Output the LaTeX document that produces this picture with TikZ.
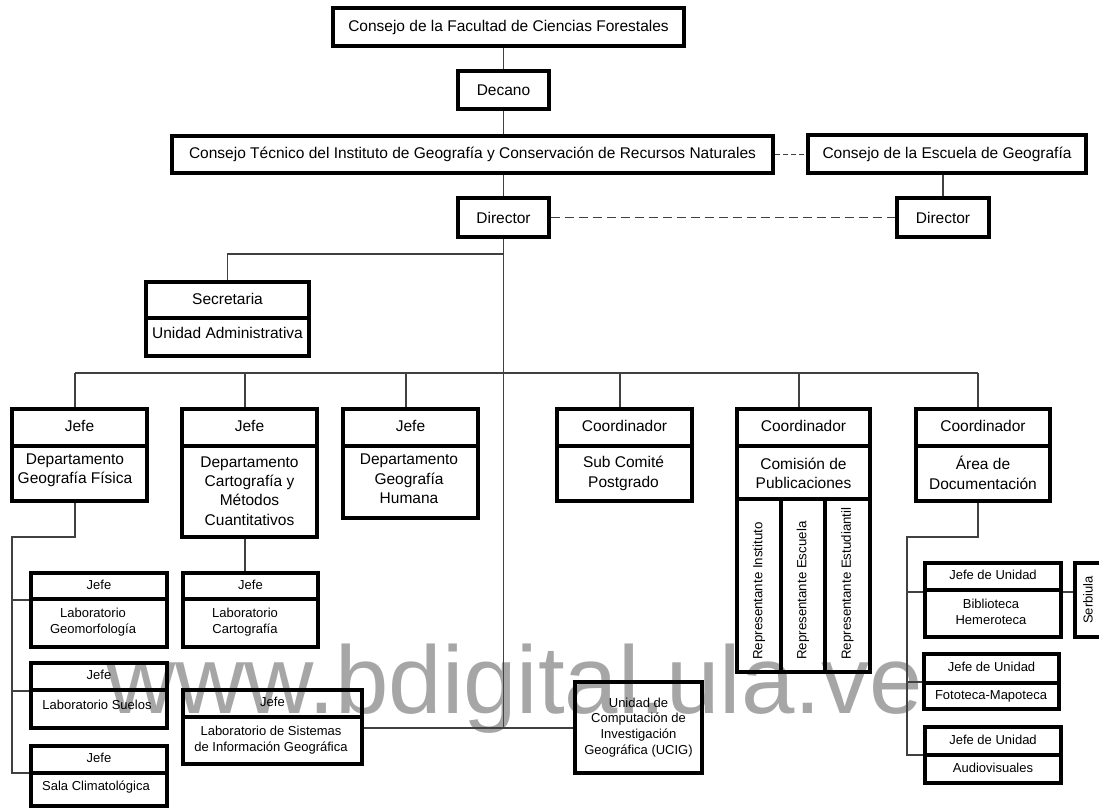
\documentclass[tikz,border=0pt]{standalone}
\usepackage{fontspec}
\setmainfont{Liberation Sans}
\usetikzlibrary{fit}
\newcommand\bigf{\fontsize{15.5}{19.3}\selectfont}
\newcommand\smf{\fontsize{13}{15.8}\selectfont}
\newcommand\repf{\fontsize{13.3}{16}\selectfont}
\definecolor{wm}{RGB}{166,166,166}
\definecolor{lnc}{RGB}{64,64,64}
% name, x1, y1, x2, y2, text
\newcommand\onebox[6]{%
  \node[bx, fit={(#2,#3) (#4,#5)}] (#1) {};
  \node[tx] at (#1.center) {#6};
}
% name, x1, y1, x2, y2, ydiv, top text, bottom text position, bottom text
\newcommand\twobox[9]{%
  \node[bx, fit={(#2,#3) (#4,#5)}] (#1) {};
  \draw[dv] (#2,#6) -- (#4,#6);
  \node[tx] at ({(#2+#4)/2},{(#3+#6)/2-1.5}) {#7};
  \node[tx] at (#8) {#9};
}
\begin{document}
\begin{tikzpicture}[x=1pt, y=-1pt,
  bx/.style={draw=black, line width=3.3pt, inner sep=0pt},
  dv/.style={draw=black, line width=3.3pt},
  cn/.style={draw=lnc, line width=1.1pt},
  tx/.style={font=\bigf, align=center, inner sep=0pt, text=black}]
\useasboundingbox (0,0) rectangle (1099,810);

% watermark
\node[anchor=base west, inner sep=0pt, text=wm, font=\fontsize{96}{100}\selectfont] (wmk) at (106,713) {www.bdigital.ula.ve};

% top hierarchy
\onebox{cf}{333}{8}{684}{46}{Consejo de la Facultad de Ciencias Forestales}
\onebox{dec}{458}{71}{549}{109}{Decano}
\onebox{ct}{172}{136}{773}{173}{Consejo Técnico del Instituto de Geografía y Conservación de Recursos Naturales}
\onebox{ce}{808}{135}{1086}{173}{Consejo de la Escuela de Geografía}
\onebox{dir}{458}{198}{549}{237}{Director}
\onebox{dirb}{897}{198}{989}{237}{Director}

\twobox{sec}{146}{282}{309}{356}{318}{Secretaria}{227.5,333}{Unidad Administrativa}

% departments / coordinations
\twobox{da}{12}{409}{147}{501}{446}{Jefe}{75,470}{Departamento\\Geografía Física}
\twobox{db}{182}{409}{317}{537}{446}{Jefe}{249.5,491}{Departamento\\Cartografía y\\Métodos\\Cuantitativos}
\twobox{dc}{343}{409}{478}{518}{446}{Jefe}{409,479}{Departamento\\Geografía\\Humana}
\twobox{dd}{557}{409}{692}{501}{446}{Coordinador}{623.5,473.5}{Sub Comité\\Postgrado}
\twobox{df}{916}{409}{1050}{501}{446}{Coordinador}{983,473}{Área de\\Documentación}

% comision de publicaciones
\node[bx, fit={(737,409) (870,672)}] (de) {};
\draw[dv] (737,446) -- (870,446);
\draw[dv] (737,499) -- (870,499);
\draw[dv] (781,499) -- (781,672);
\draw[dv] (825,499) -- (825,672);
\node[tx] at (803.5,426) {Coordinador};
\node[tx] at (803.5,473.5) {Comisión de\\Publicaciones};
\begin{scope}[every node/.style={font=\repf, inner sep=0pt, rotate=90, anchor=west}]
  \node (r1) at (759,660) {Representante Instituto};
  \node (r2) at (803,660) {Representante Escuela};
  \node (r3) at (847.5,660) {Representante Estudiantil};
\end{scope}

% laboratories and units (small font)
\begin{scope}[tx/.style={font=\smf, align=center, inner sep=0pt, text=black}]
\twobox{geo}{31}{573}{167}{647}{599}{Jefe}{93,622}{Laboratorio\\Geomorfología}
\twobox{sue}{31}{663}{167}{728}{690}{Jefe}{97,705}{Laboratorio Suelos}
\twobox{sala}{31}{746}{167}{806}{773}{Jefe}{96,787}{Sala Climatológica}
\twobox{cart}{183}{573}{318}{647}{599}{Jefe}{245,622}{Laboratorio\\Cartografía}
\twobox{sig}{183}{690}{362}{764}{717}{Jefe}{271,740}{Laboratorio de Sistemas\\de Información Geográfica}
\onebox{ucig}{575}{682}{702}{773}{Unidad de\\Computación de\\Investigación\\Geográfica (UCIG)}
\twobox{bib}{925}{563}{1061}{637}{590}{Jefe de Unidad}{991,612}{Biblioteca\\Hemeroteca}
\twobox{foto}{924}{654}{1059}{709}{683}{Jefe de Unidad}{991,696}{Fototeca-Mapoteca}
\twobox{aud}{925}{727}{1061}{783}{755}{Jefe de Unidad}{993,768}{Audiovisuales}
\node[bx, fit={(1075,563) (1112,637)}] (serb) {};
\node[tx, rotate=90] at (1088,600) {Serbiula};
\end{scope}

% connectors: top
\draw[cn] (dec.north) -- (dec.north |- cf.south);
\draw[cn] (dec.south) -- (dec.south |- ct.north);
\draw[cn] (dir.north) -- (dir.north |- ct.south);
\draw[cn] (dirb.north) -- (dirb.north |- ce.south);
\draw[cn, dash pattern=on 5pt off 3pt] (ct.east) -- (ct.east -| ce.west);
\draw[cn, dash pattern=on 9pt off 5pt] (dir.east) -- (dirb.west);

% main vertical and secretaria
\coordinate (jn) at (503.5,728);
\coordinate (sk) at (503.5,254);
\draw[cn] (dir.south) -- (jn);
\draw[cn] (sec.north) |- (sk);
\draw[cn] (sig.east |- jn) -- (ucig.west |- jn);

% bus
\coordinate (ta) at (75,373);
\coordinate (tb) at (245,373);
\coordinate (tc) at (406,373);
\coordinate (td) at (620,373);
\coordinate (te) at (799,373);
\coordinate (tf) at (978,373);
\draw[cn] (ta) -- (tf);
\draw[cn] (ta) -- (ta |- da.north);
\draw[cn] (tb) -- (tb |- db.north);
\draw[cn] (tc) -- (tc |- dc.north);
\draw[cn] (td) -- (td |- dd.north);
\draw[cn] (te) -- (te |- de.north);
\draw[cn] (tf) -- (tf |- df.north);

% left labs
\coordinate (ab) at (75,537);
\coordinate (al) at (12,537);
\coordinate (ag) at (12,600);
\coordinate (as) at (12,691);
\coordinate (alb) at (12,773);
\draw[cn] (ab |- da.south) -- (ab) -- (al) -- (alb) -- (alb -| sala.west);
\draw[cn] (ag) -- (ag -| geo.west);
\draw[cn] (as) -- (as -| sue.west);
\draw[cn] (tb |- db.south) -- (tb |- cart.north);

% right units
\coordinate (fb) at (978,537);
\coordinate (fl) at (907,537);
\coordinate (fg) at (907,592);
\coordinate (ff) at (907,682);
\coordinate (flb) at (907,755);
\draw[cn] (fb |- df.south) -- (fb) -- (fl) -- (flb) -- (flb -| aud.west);
\draw[cn] (fg) -- (fg -| bib.west);
\draw[cn] (ff) -- (ff -| foto.west);
\draw[cn] (fg -| bib.east) -- (fg -| serb.west);
\end{tikzpicture}
\end{document}
